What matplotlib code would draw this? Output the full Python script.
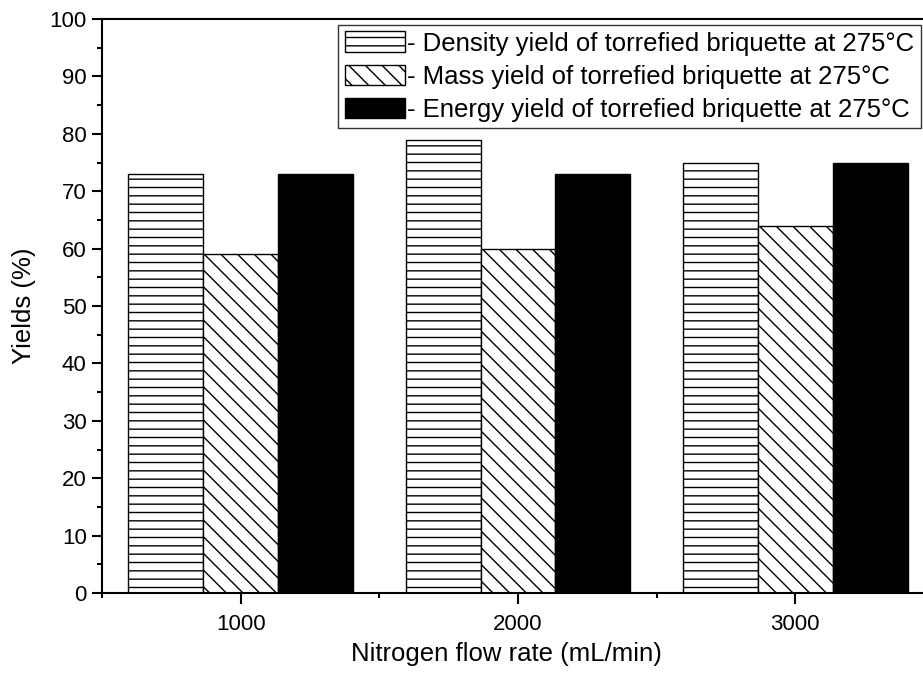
import numpy as np
import matplotlib
matplotlib.use('Agg')
import matplotlib.pyplot as plt
from matplotlib.ticker import MultipleLocator

plt.rcParams['font.family'] = ['Liberation Sans', 'DejaVu Sans']
plt.rcParams['hatch.linewidth'] = 1.0

flow_rates = [1000, 2000, 3000]
density_yield = [73, 79, 75]
mass_yield = [59, 60, 64]
energy_yield = [73, 73, 75]
labels = ['- Density yield of torrefied briquette at 275\u00b0C',
          '- Mass yield of torrefied briquette at 275\u00b0C',
          '- Energy yield of torrefied briquette at 275\u00b0C']

fig = plt.figure(figsize=(9.23, 6.73), dpi=100)
ax = fig.add_axes([102/923, 80/673, 832/923, 574/673])

x = np.array(flow_rates)
w = 270
ax.bar(x - w, density_yield, w, facecolor='white', edgecolor='black', linewidth=1, hatch='--', label=labels[0])
ax.bar(x, mass_yield, w, facecolor='white', edgecolor='black', linewidth=1, hatch='\\\\', label=labels[1])
ax.bar(x + w, energy_yield, w, facecolor='black', edgecolor='black', linewidth=1, label=labels[2])

ax.set_xlim(500, 3500)
ax.set_ylim(0, 100)
ax.set_xticks(flow_rates)
ax.xaxis.set_minor_locator(MultipleLocator(500))
ax.yaxis.set_major_locator(MultipleLocator(10))
ax.yaxis.set_minor_locator(MultipleLocator(5))

ax.spines['right'].set_visible(False)
for s in ['left', 'bottom', 'top']:
    ax.spines[s].set_linewidth(1.5)
ax.tick_params(which='major', direction='out', length=7, width=1.5, labelsize=16, pad=4)
ax.tick_params(which='minor', direction='out', length=3.5, width=1.5)
ax.tick_params(axis='x', which='major', length=8, pad=7)

ax.set_xlabel('Nitrogen flow rate (mL/min)', fontsize=18.5)
ax.set_ylabel('Yields (%)', fontsize=18.5)
ax.xaxis.set_label_coords(0.4856, -0.086)
ax.yaxis.set_label_coords(-0.079, 0.5)

leg = ax.legend(loc='upper right', bbox_to_anchor=(921/923, 648/673), bbox_transform=fig.transFigure,
                fontsize=18.5, fancybox=False, edgecolor='#333333', framealpha=1,
                handlelength=2.35, handleheight=0.85, handletextpad=0.1, borderpad=0.25,
                labelspacing=0.35, borderaxespad=0)
leg.get_frame().set_linewidth(1)

fig.savefig('out.png', dpi=100)
